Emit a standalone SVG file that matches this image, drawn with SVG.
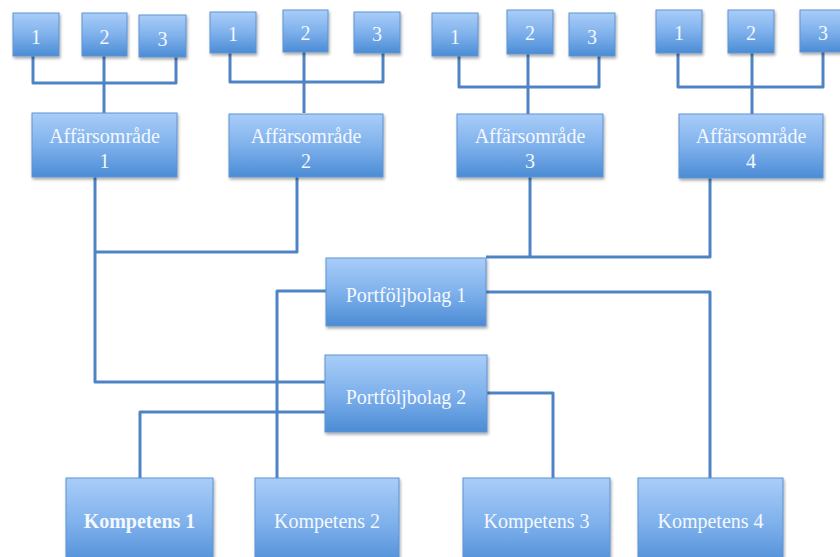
<svg xmlns="http://www.w3.org/2000/svg" width="840" height="557" viewBox="0 0 840 557">
<defs>
<linearGradient id="g" x1="0" y1="0" x2="0" y2="1">
<stop offset="0" stop-color="#a9cdf8"/>
<stop offset="0.5" stop-color="#7fb1ec"/>
<stop offset="1" stop-color="#4b8cd5"/>
</linearGradient>
<filter id="sh" x="-10%" y="-10%" width="130%" height="140%">
<feDropShadow dx="1" dy="2" stdDeviation="1.5" flood-color="#000" flood-opacity="0.35"/>
</filter>
</defs>
<style>
.b{fill:url(#g);stroke:#5f93d3;stroke-width:1;filter:url(#sh)}
.t{font-family:"Liberation Serif","Times New Roman",serif;font-size:20px;fill:#f4f8ff;text-anchor:middle}
.bold{font-weight:bold}
.c{fill:none;stroke:#4f84c4;stroke-width:3;stroke-linejoin:round}
</style>
<rect width="840" height="557" fill="#ffffff"/>
<g id="connectors">
<path class="c" d="M33 56V83H176V57M104 56V113"/>
<path class="c" d="M230 53V82H383V53M304 52V113"/>
<path class="c" d="M459 56V87H599V56M528 54V114"/>
<path class="c" d="M678 53V87H823V52M752 53V114"/>
<path class="c" d="M95 177V382H325M95 252H297V177"/>
<path class="c" d="M530 177V257M486 257H710V178"/>
<path class="c" d="M326 291H277V478"/>
<path class="c" d="M486 292H710V478"/>
<path class="c" d="M487 393H553V478"/>
<path class="c" d="M325 412H140V478"/>
</g>
<g id="a1s1"><rect class="b" x="13" y="13" width="46" height="43"/><text class="t" x="36" y="44">1</text></g>
<g id="a1s2"><rect class="b" x="82" y="13" width="45" height="43"/><text class="t" x="104.5" y="44">2</text></g>
<g id="a1s3"><rect class="b" x="139" y="15" width="47" height="42"/><text class="t" x="162.5" y="46">3</text></g>
<g id="a2s1"><rect class="b" x="210" y="12" width="46" height="41"/><text class="t" x="233" y="41">1</text></g>
<g id="a2s2"><rect class="b" x="283" y="10" width="45" height="42"/><text class="t" x="305.5" y="40">2</text></g>
<g id="a2s3"><rect class="b" x="354" y="12" width="46" height="41"/><text class="t" x="377" y="41">3</text></g>
<g id="a3s1"><rect class="b" x="432" y="13" width="46" height="43"/><text class="t" x="455" y="44">1</text></g>
<g id="a3s2"><rect class="b" x="507" y="10" width="46" height="44"/><text class="t" x="530" y="40">2</text></g>
<g id="a3s3"><rect class="b" x="569" y="13" width="46" height="43"/><text class="t" x="592" y="44">3</text></g>
<g id="a4s1"><rect class="b" x="656" y="10" width="46" height="43"/><text class="t" x="679" y="40">1</text></g>
<g id="a4s2"><rect class="b" x="728" y="10" width="46" height="43"/><text class="t" x="751" y="40">2</text></g>
<g id="a4s3"><rect class="b" x="800" y="10" width="46" height="42"/><text class="t" x="823" y="40">3</text></g>
<g id="a1"><rect class="b" x="32" y="113" width="145" height="64"/><text class="t" x="104.5" y="143">Affärsområde</text><text class="t" x="104.5" y="168">1</text></g>
<g id="a2"><rect class="b" x="229" y="114" width="154" height="63"/><text class="t" x="306" y="143">Affärsområde</text><text class="t" x="306" y="168">2</text></g>
<g id="a3"><rect class="b" x="457" y="114" width="146" height="63"/><text class="t" x="530" y="143">Affärsområde</text><text class="t" x="530" y="168">3</text></g>
<g id="a4"><rect class="b" x="679" y="114" width="144" height="64"/><text class="t" x="751" y="143">Affärsområde</text><text class="t" x="751" y="168">4</text></g>
<g id="p1"><rect class="b" x="326" y="258" width="160" height="68"/><text class="t" x="406" y="302">Portföljbolag 1</text></g>
<g id="p2"><rect class="b" x="325" y="355" width="162" height="77"/><text class="t" x="406" y="404">Portföljbolag 2</text></g>
<g id="k1"><rect class="b" x="66" y="478" width="147" height="90"/><text class="t bold" x="139.5" y="528">Kompetens 1</text></g>
<g id="k2"><rect class="b" x="255" y="478" width="144" height="90"/><text class="t" x="327" y="528">Kompetens 2</text></g>
<g id="k3"><rect class="b" x="463" y="478" width="147" height="90"/><text class="t" x="536.5" y="528">Kompetens 3</text></g>
<g id="k4"><rect class="b" x="638" y="478" width="145" height="90"/><text class="t" x="710.5" y="528">Kompetens 4</text></g>
</svg>
